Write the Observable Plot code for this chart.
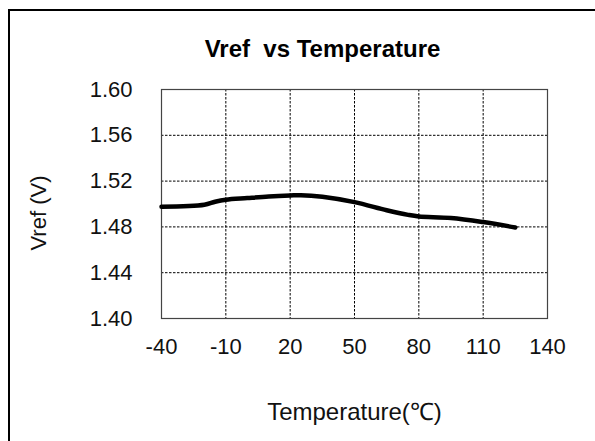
<!DOCTYPE html>
<html>
<head>
<meta charset="utf-8">
<script src="https://cdn.jsdelivr.net/npm/d3@7"></script>
<script src="https://cdn.jsdelivr.net/npm/@observablehq/plot@0.6"></script>
<style>
  html, body { margin: 0; padding: 0; background: #fff; }
  #wrap { position: relative; width: 595px; height: 441px; overflow: hidden; }
  #border { position: absolute; left: 8px; top: 9px; width: 700px; height: 600px;
            border-top: 2px solid #000; border-left: 2px solid #000; pointer-events: none; }
  svg { font-family: Arial, "Liberation Sans", sans-serif; }
</style>
</head>
<body>
<div id="wrap"><div id="border"></div></div>
<script>
const title = "Vref  vs Temperature";
const xLabel = "Temperature(℃)";
const yLabel = "Vref (V)";
const xTicks = [-40, -10, 20, 50, 80, 110, 140];
const yTicks = [1.40, 1.44, 1.48, 1.52, 1.56, 1.60];
const temperature = [-40, -20, -15, -10, 0, 10, 20, 25, 35, 50, 65, 75, 80, 95, 110, 125];
const vref = [1.4976, 1.4993, 1.5020, 1.5038, 1.5052, 1.5065, 1.5074, 1.5077, 1.5063, 1.5016, 1.4945, 1.4905, 1.4891, 1.4878, 1.4842, 1.4795];

const data = temperature.map((t, i) => ({t, v: vref[i]}));
const innerX = xTicks.slice(1, -1);
const innerY = yTicks.slice(1, -1);

const chart = Plot.plot({
  width: 595,
  height: 441,
  marginLeft: 161,
  marginRight: 48,
  marginTop: 89,
  marginBottom: 123,
  style: {fontFamily: "Arial, 'Liberation Sans', sans-serif", background: "transparent", color: "#000"},
  x: {domain: [-40, 140], ticks: xTicks, tickSize: 0, tickPadding: 20, label: null},
  y: {domain: [1.40, 1.60], ticks: yTicks, tickSize: 0, tickPadding: 29, tickFormat: d3.format(".2f"), label: null},
  marks: [
    Plot.gridX(innerX, {stroke: "#000", strokeOpacity: 1, strokeWidth: 1, strokeDasharray: "2.5,1.5"}),
    Plot.gridY(innerY, {stroke: "#000", strokeOpacity: 1, strokeWidth: 1, strokeDasharray: "2.5,1.5"}),
    Plot.frame({stroke: "#444", strokeWidth: 1.2}),
    Plot.axisX(xTicks, {tickSize: 0, tickPadding: 20, fontSize: 22, fill: "#111", tickFormat: d => `${d}`, label: null}),
    Plot.axisY(yTicks, {tickSize: 0, tickPadding: 29, fontSize: 22, fill: "#111", tickFormat: d3.format(".2f"), label: null}),
    Plot.line(data, {x: "t", y: "v", stroke: "#000", strokeWidth: 4.5, curve: "catmull-rom"}),
    Plot.text([title], {frameAnchor: "top", dx: -32, dy: -33, lineAnchor: "bottom", textAnchor: "middle", fontSize: 24, fontWeight: "bold", fill: "#000"}),
    Plot.text([xLabel], {frameAnchor: "bottom", dy: 101, lineAnchor: "bottom", textAnchor: "middle", fontSize: 24, fill: "#111"}),
    Plot.text([yLabel], {frameAnchor: "left", dx: -123, dy: 9, rotate: -90, lineAnchor: "middle", textAnchor: "middle", fontSize: 22, fill: "#111"})
  ]
});
document.getElementById("wrap").prepend(chart);
</script>
</body>
</html>
